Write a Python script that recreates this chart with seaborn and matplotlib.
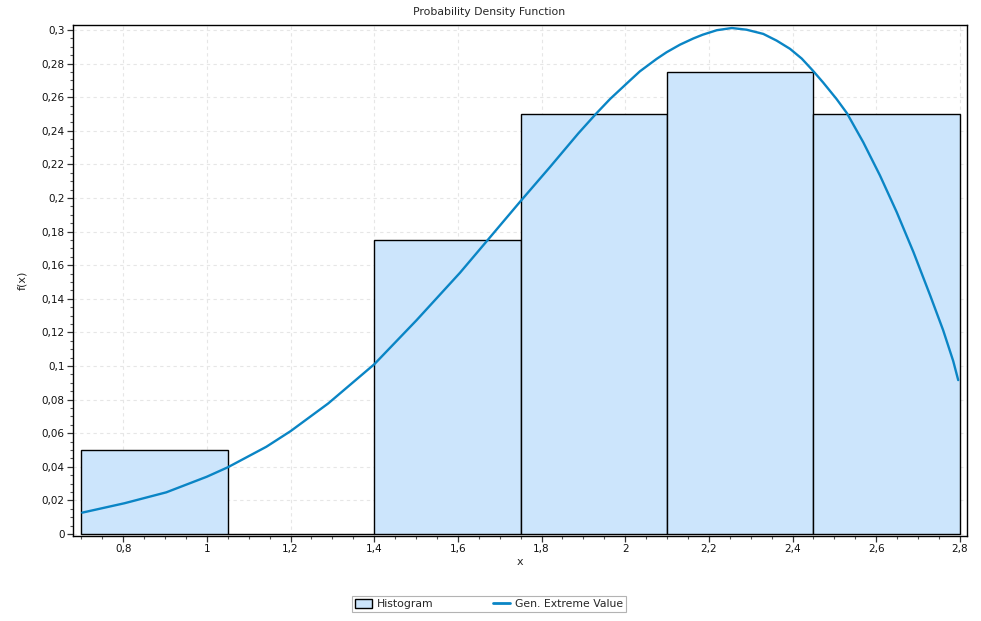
import numpy as np
import pandas as pd
import matplotlib
matplotlib.use("Agg")
import matplotlib.pyplot as plt
from matplotlib.ticker import MultipleLocator, FuncFormatter
from matplotlib.patches import Patch
from matplotlib.lines import Line2D
import seaborn as sns

# ---- data ----
bin_edges = [0.70, 1.05, 1.40, 1.75, 2.10, 2.45, 2.80]
bin_density = [0.050, 0.000, 0.175, 0.250, 0.275, 0.250]

curve_x = [0.702, 0.803, 0.903, 1.000, 1.050, 1.142, 1.200, 1.290, 1.400, 1.501,
           1.605, 1.673, 1.748, 1.820, 1.888, 1.930, 1.964, 2.011, 2.035, 2.075,
           2.099, 2.131, 2.163, 2.185, 2.219, 2.255, 2.290, 2.330, 2.362, 2.394,
           2.422, 2.448, 2.473, 2.505, 2.530, 2.569, 2.609, 2.649, 2.689, 2.729,
           2.760, 2.784, 2.796]
curve_y = [0.0127, 0.0183, 0.0248, 0.0341, 0.0397, 0.0519, 0.0612, 0.0777, 0.1010, 0.1272,
           0.1555, 0.1755, 0.1976, 0.2184, 0.2385, 0.2501, 0.2590, 0.2699, 0.2754, 0.2828,
           0.2868, 0.2913, 0.2950, 0.2972, 0.2999, 0.3012, 0.3002, 0.2977, 0.2937, 0.2888,
           0.2830, 0.2760, 0.2688, 0.2590, 0.2505, 0.2332, 0.2134, 0.1916, 0.1678, 0.1420,
           0.1213, 0.1030, 0.0916]

title = "Probability Density Function"
xlabel = "x"
ylabel = "f(x)"
legend_labels = ["Histogram", "Gen. Extreme Value"]

bar_color = "#CCE5FC"
line_color = "#0A85C5"

# ---- styling ----
sns.set_style("ticks")
plt.rcParams["font.family"] = ["DejaVu Sans"]
plt.rcParams["font.size"] = 7.5

fig = plt.figure(figsize=(9.81, 6.21), dpi=100)
ax = fig.add_axes([73 / 981, 1 - 536 / 621, (967 - 73) / 981, (536 - 25) / 621])

centers = [(a + b) / 2 for a, b in zip(bin_edges[:-1], bin_edges[1:])]
hist_df = pd.DataFrame({"x": centers, "w": bin_density})
sns.histplot(data=hist_df, x="x", weights="w", bins=bin_edges, stat="count",
             color=bar_color, alpha=1.0, edgecolor="black", linewidth=1.0, ax=ax,
             zorder=2)

curve_df = pd.DataFrame({"x": curve_x, "y": curve_y})
sns.lineplot(data=curve_df, x="x", y="y", color=line_color, linewidth=1.7, ax=ax,
             zorder=3)

ax.set_xlim(0.680, 2.817)
ax.set_ylim(-0.0012, 0.303)

ax.xaxis.set_major_locator(MultipleLocator(0.2))
ax.xaxis.set_minor_locator(MultipleLocator(0.05))
ax.yaxis.set_major_locator(MultipleLocator(0.02))
ax.yaxis.set_minor_locator(MultipleLocator(0.005))

def comma_fmt(v, pos):
    s = "{:.2f}".format(round(v, 2)).rstrip("0").rstrip(".")
    if s == "-0":
        s = "0"
    return s.replace(".", ",")

ax.xaxis.set_major_formatter(FuncFormatter(comma_fmt))
ax.yaxis.set_major_formatter(FuncFormatter(comma_fmt))

ax.tick_params(which="major", direction="out", length=4, width=0.9, color="#333333",
               labelsize=7.5, labelcolor="#111111", pad=2)
ax.tick_params(which="minor", direction="out", length=2, width=0.8, color="#555555")

for sp in ax.spines.values():
    sp.set_visible(True)
    sp.set_color("black")
    sp.set_linewidth(1.0)

ax.grid(True, which="major", color="#E6E6E6", linestyle=(0, (3, 3)), linewidth=0.8)
ax.set_axisbelow(True)

ax.set_xlabel(xlabel, fontsize=8, labelpad=2)
ax.set_ylabel(ylabel, fontsize=8, labelpad=10)
fig.text(489 / 981, 1 - 12 / 621, title, ha="center", va="center", fontsize=7.8)

handles = [Patch(facecolor=bar_color, edgecolor="black", linewidth=1.0),
           Line2D([0], [0], color=line_color, linewidth=2)]
leg = fig.legend(handles, legend_labels, loc="center", ncol=2,
                 bbox_to_anchor=(489 / 981, 1 - 604 / 621), frameon=True,
                 fancybox=False, edgecolor="#A0A0A0", fontsize=7.8,
                 columnspacing=5.5, handlelength=1.6, handletextpad=0.4,
                 borderpad=0.3, handleheight=0.9)
leg.get_frame().set_linewidth(0.8)

fig.savefig("out.png", dpi=100)
